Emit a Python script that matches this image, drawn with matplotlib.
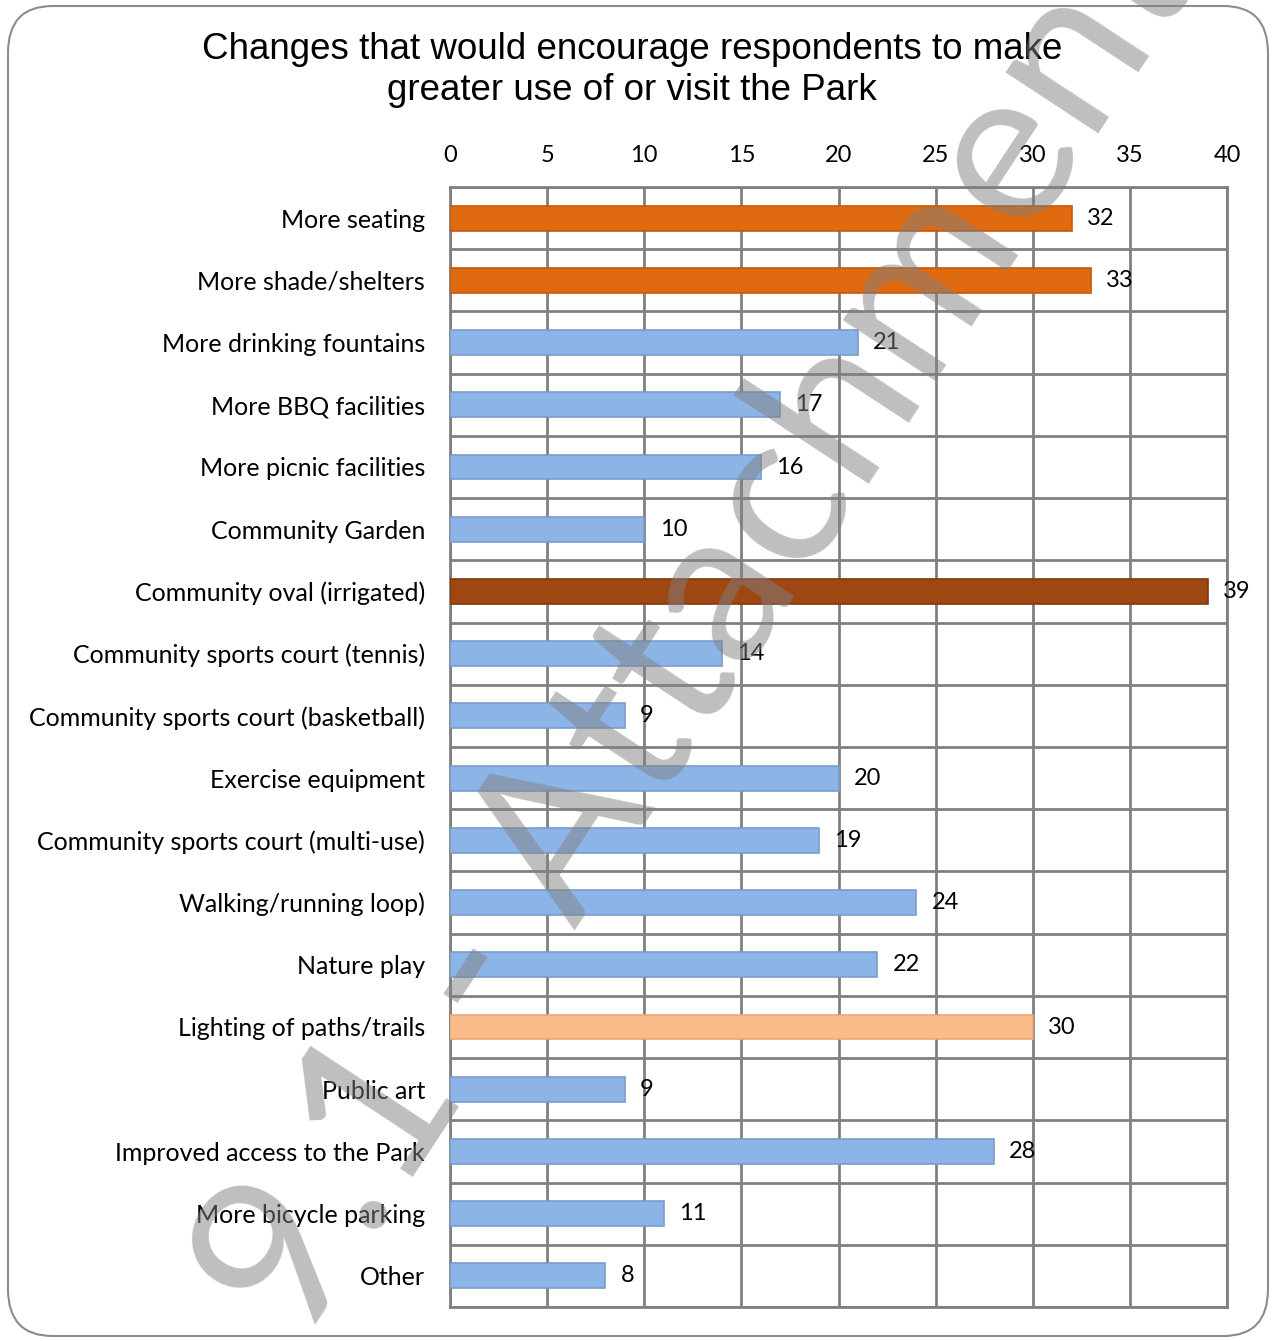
import matplotlib
matplotlib.use("Agg")
import matplotlib.pyplot as plt
from matplotlib.patches import FancyBboxPatch

# chart data, top to bottom as in the survey
categories = [
    "More seating", "More shade/shelters", "More drinking fountains",
    "More BBQ facilities", "More picnic facilities", "Community Garden",
    "Community oval (irrigated)", "Community sports court (tennis)",
    "Community sports court (basketball)", "Exercise equipment",
    "Community sports court (multi-use)", "Walking/running loop)",
    "Nature play", "Lighting of paths/trails", "Public art",
    "Improved access to the Park", "More bicycle parking", "Other",
]
responses = [32, 33, 21, 17, 16, 10, 39, 14, 9, 20, 19, 24, 22, 30, 9, 28, 11, 8]
x_ticks = [0, 5, 10, 15, 20, 25, 30, 35, 40]

title = "Changes that would encourage respondents to make\ngreater use of or visit the Park"

# colour highlights for the top answers
blue = "#8DB4E6"
highlight = {
    "More seating": "#E06A10",
    "More shade/shelters": "#E06A10",
    "Community oval (irrigated)": "#9E4713",
    "Lighting of paths/trails": "#FBBA8A",
}
edge = {"#8DB4E6": "#7C9CCB", "#E06A10": "#C25A0C", "#9E4713": "#80380E", "#FBBA8A": "#E9A877"}

fig = plt.figure(figsize=(12.76, 13.41), dpi=100)
ax = fig.add_axes([450 / 1276, 1 - 1307 / 1341, 777 / 1276, 1120 / 1341])

ypos = list(range(len(categories)))
bar_colors = [highlight.get(c, blue) for c in categories]
ax.barh(ypos, responses, height=0.4, color=bar_colors,
        edgecolor=[edge[c] for c in bar_colors], linewidth=1.2, zorder=3)

for y, v in zip(ypos, responses):
    ax.annotate(str(v), (v, y), xytext=(11, 0), textcoords="offset points",
                va="center", ha="left", fontsize=17, family="Lato", zorder=4)

ax.set_xlim(0, 40)
ax.set_ylim(len(categories) - 0.5, -0.5)
ax.set_xticks(x_ticks)
ax.set_yticks(ypos)
ax.set_yticklabels(categories, family="Lato", fontsize=18)
ax.xaxis.tick_top()
ax.tick_params(axis="x", length=0, pad=15, labelsize=17, labelfontfamily="Lato")
ax.tick_params(axis="y", length=0, pad=18)

# grid: vertical at each tick, horizontal between categories
for x in x_ticks:
    ax.axvline(x, color="#808080", lw=2, zorder=1)
for k in range(len(categories) + 1):
    ax.axhline(k - 0.5, color="#808080", lw=2, zorder=1)
for s in ax.spines.values():
    s.set_color("#808080")
    s.set_linewidth(2)

fig.text(632 / 1276, 1 - 70 / 1341, title, ha="center", va="center",
         fontsize=26.5, family="Liberation Sans", linespacing=1.2)

# rounded frame round the whole chart
frame = FancyBboxPatch((8 / 1276, 5 / 1341), 1260 / 1276, 1330 / 1341,
                       boxstyle="round,pad=0,rounding_size=0.035",
                       transform=fig.transFigure, fill=False,
                       edgecolor="#8C8C8C", lw=1.5)
fig.patches.append(frame)

# document watermark
fig.text(300 / 1276, 1 - 1349 / 1341, "9.1 - Attachment 1", rotation=56.7,
         rotation_mode="anchor", ha="left", va="baseline", fontsize=158,
         family="Lato", color="#808080", alpha=0.5, zorder=10)

fig.savefig("out.png", dpi=100)
